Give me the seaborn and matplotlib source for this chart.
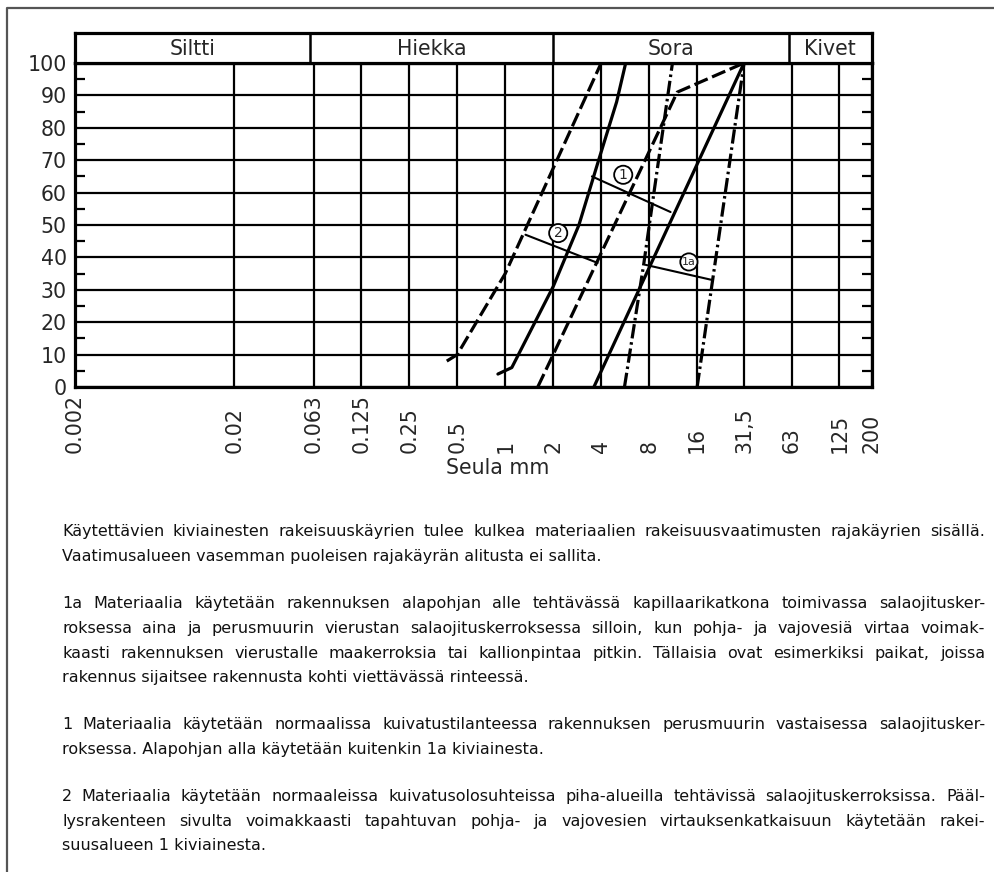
import numpy as np
import pandas as pd
import matplotlib
matplotlib.use("Agg")
import matplotlib.pyplot as plt
from matplotlib.ticker import NullLocator
import seaborn as sns

# rakeisuuskäyrät: seula (mm) ja läpäisy (%)
d_2_left = [0.43, 0.5, 1.0, 4.0]
p_2_left = [8, 10, 35, 100]
d_1_left = [0.9, 1.1, 2.0, 2.9, 3.8, 5.0, 5.7]
p_1_left = [4, 6, 31, 50, 69, 88, 100]
d_2_right = [1.6, 2.0, 12.0, 31.5]
p_2_right = [0, 10, 91, 100]
d_1a_left = [5.6, 7.4, 11.2]
p_1a_left = [0, 38, 100]
d_1_right = [3.6, 31.5]
p_1_right = [0, 100]
d_1a_right = [16.0, 31.5]
p_1a_right = [0, 100]

# merkinnät (hakaset ja ympyränumerot)
bracket_1_d = [3.5, 10.9]
bracket_1_p = [65, 54]
bracket_2_d = [1.34, 3.8]
bracket_2_p = [47, 38.3]
bracket_1a_d = [7.6, 20.0]
bracket_1a_p = [37.7, 33.0]
mark_labels = ["1", "2", "1a"]
mark_d = [5.5, 2.15, 14.2]
mark_p = [65.5, 47.5, 38.6]

x_ticks = [0.002, 0.02, 0.063, 0.125, 0.25, 0.5, 1, 2, 4, 8, 16, 31.5, 63, 125, 200]
x_labels = ["0.002", "0.02", "0.063", "0.125", "0.25", "0.5", "1", "2", "4", "8",
            "16", "31,5", "63", "125", "200"]
y_ticks = list(range(0, 101, 10))

header_bounds = [0.002, 0.06, 2, 60, 200]
header_labels = ["Siltti", "Hiekka", "Sora", "Kivet"]

paragraphs = [
    ["Käytettävien kiviainesten rakeisuuskäyrien tulee kulkea materiaalien rakeisuusvaatimusten rajakäyrien sisällä.",
     "Vaatimusalueen vasemman puoleisen rajakäyrän alitusta ei sallita."],
    ["1a Materiaalia käytetään rakennuksen alapohjan alle tehtävässä kapillaarikatkona toimivassa salaojitusker-",
     "roksessa aina ja perusmuurin vierustan salaojituskerroksessa silloin, kun pohja- ja vajovesiä virtaa voimak-",
     "kaasti rakennuksen vierustalle maakerroksia tai kallionpintaa pitkin. Tällaisia ovat esimerkiksi paikat, joissa",
     "rakennus sijaitsee rakennusta kohti viettävässä rinteessä."],
    ["1 Materiaalia käytetään normaalissa kuivatustilanteessa rakennuksen perusmuurin vastaisessa salaojitusker-",
     "roksessa. Alapohjan alla käytetään kuitenkin 1a kiviainesta."],
    ["2 Materiaalia käytetään normaaleissa kuivatusolosuhteissa piha-alueilla tehtävissä salaojituskerroksissa. Pääl-",
     "lysrakenteen sivulta voimakkaasti tapahtuvan pohja- ja vajovesien virtauksenkatkaisuun käytetään rakei-",
     "suusalueen 1 kiviainesta."],
]

curves = {
    "2 vasen": (d_2_left, p_2_left),
    "1 vasen": (d_1_left, p_1_left),
    "2 oikea": (d_2_right, p_2_right),
    "1a vasen": (d_1a_left, p_1a_left),
    "1 oikea": (d_1_right, p_1_right),
    "1a oikea": (d_1a_right, p_1a_right),
}
rows = []
for name, (ds, ps) in curves.items():
    for d, p in zip(ds, ps):
        rows.append({"curve": name, "d": d, "p": p})
df = pd.DataFrame(rows)

dash = (4.5, 1.5)
dashdot = (4.5, 1.2, 0.8, 1.2)
dash_map = {"2 vasen": dash, "2 oikea": dash, "1 vasen": "", "1 oikea": "",
            "1a vasen": dashdot, "1a oikea": dashdot}

sns.set_style("white")
plt.rcParams["font.family"] = ["DejaVu Sans"]

W, H = 995, 872
fig = plt.figure(figsize=(W / 100, H / 100), dpi=100)

# tausta: kehys ja selitysteksti pikseleinä
bg = fig.add_axes([0, 0, 1, 1])
bg.set_xlim(0, W)
bg.set_ylim(H, 0)
bg.axis("off")
bg.plot([7, 7, W], [H, 8, 8], color="#555555", lw=1.6, solid_capstyle="butt")

ax_l, ax_r, ax_t, ax_b = 75, 872, 63, 387
ax = fig.add_axes([ax_l / W, (H - ax_b) / H, (ax_r - ax_l) / W, (ax_b - ax_t) / H])
hdr = fig.add_axes([ax_l / W, (H - ax_t) / H, (ax_r - ax_l) / W, 30 / H])

sns.lineplot(data=df, x="d", y="p", hue="curve", style="curve",
             palette={k: "black" for k in curves}, dashes=dash_map,
             estimator=None, sort=False, legend=False, lw=2.3, ax=ax, zorder=3)

for bd, bp in [(bracket_1_d, bracket_1_p), (bracket_2_d, bracket_2_p),
               (bracket_1a_d, bracket_1a_p)]:
    ax.plot(bd, bp, color="black", lw=1.5, zorder=3)
for lab, d, p in zip(mark_labels, mark_d, mark_p):
    ax.text(d, p, lab, ha="center", va="center", fontsize=8 if lab == "1a" else 10,
            zorder=4, bbox=dict(boxstyle="circle,pad=0.15", fc="white", ec="black", lw=1.3))

ax.set_xscale("log")
ax.set_xlim(0.002, 200)
ax.set_ylim(0, 100)
ax.xaxis.set_minor_locator(NullLocator())
ax.set_xticks(x_ticks)
ax.set_xticklabels([])
ax.set_yticks(y_ticks)
ax.set_yticks(list(range(5, 100, 10)), minor=True)
ax.tick_params(axis="y", which="major", length=0, pad=6, labelsize=14.8)
ax.tick_params(axis="x", which="major", length=0)
ax.tick_params(axis="y", which="minor", direction="in", length=7, width=1.6,
               left=True, right=True, color="black")
ax.grid(True, which="major", color="black", lw=1.6)
ax.set_xlabel("")
ax.set_ylabel("")
for s in ax.spines.values():
    s.set_color("black")
    s.set_linewidth(2.3)

xt = ax.get_xaxis_transform()
for v, lab in zip(x_ticks, x_labels):
    ax.text(v, -0.205, lab, transform=xt, rotation=90, ha="center", va="bottom",
            fontsize=14.8)
ax.text(0.53, -0.22, "Seula mm", transform=ax.transAxes, ha="center", va="top",
        fontsize=14.8)

hdr.set_xscale("log")
hdr.set_xlim(0.002, 200)
hdr.set_ylim(0, 1)
hdr.set_xticks([])
hdr.set_yticks([])
hdr.xaxis.set_minor_locator(NullLocator())
for s in hdr.spines.values():
    s.set_color("black")
    s.set_linewidth(2.3)
for b in header_bounds[1:-1]:
    hdr.axvline(b, color="black", lw=1.8)
for i, lab in enumerate(header_labels):
    xc = np.sqrt(header_bounds[i] * header_bounds[i + 1])
    hdr.text(xc, 0.48, lab, ha="center", va="center", fontsize=14.8)

# tasattu leipäteksti
renderer = fig.canvas.get_renderer()
left, right = 62, 985
fs = 11.5
line_y = [[531, 556], [603, 628, 653, 677], [724, 749], [796, 821, 845]]
for para, ys in zip(paragraphs, line_y):
    for i, (line, y) in enumerate(zip(para, ys)):
        if i == len(para) - 1:
            bg.text(left, y, line, ha="left", va="center", fontsize=fs, color="#111111")
            continue
        words = line.split(" ")
        size = fs
        while True:
            texts = [bg.text(0, y, w, ha="left", va="center", fontsize=size, color="#111111")
                     for w in words]
            widths = [t.get_window_extent(renderer=renderer).width for t in texts]
            gap = (right - left - sum(widths)) / (len(words) - 1)
            if gap >= 3.5 or size < 8:
                break
            for t in texts:
                t.remove()
            size -= 0.25
        x = left
        for t, w in zip(texts, widths):
            t.set_x(x)
            x += w + gap

fig.savefig("out.png", dpi=100)
